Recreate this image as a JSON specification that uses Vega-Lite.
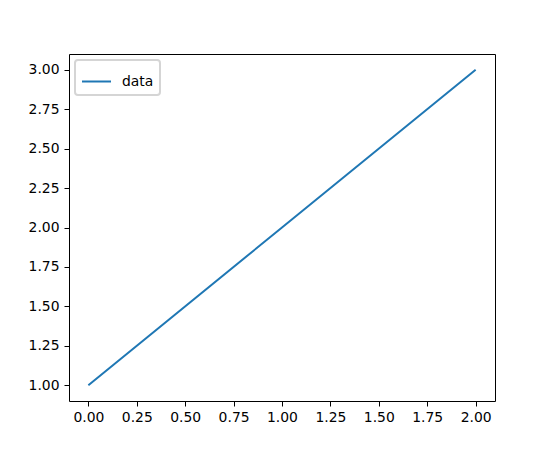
{
  "$schema": "https://vega.github.io/schema/vega-lite/v6.json",
  "autosize": "none",
  "padding": {"left": 69, "top": 54, "right": 55, "bottom": 49},
  "width": 426,
  "height": 347,
  "background": "white",
  "data": {
    "values": [
      {"x": 0, "y": 1, "series": "data"},
      {"x": 1, "y": 2, "series": "data"},
      {"x": 2, "y": 3, "series": "data"}
    ]
  },
  "mark": {"type": "line", "strokeWidth": 2},
  "encoding": {
    "x": {
      "field": "x",
      "type": "quantitative",
      "title": null,
      "scale": {"domain": [-0.1, 2.1], "nice": false, "zero": false},
      "axis": {
        "values": [0, 0.25, 0.5, 0.75, 1, 1.25, 1.5, 1.75, 2],
        "format": ".2f",
        "grid": false,
        "domain": false,
        "tickSize": 5,
        "tickColor": "black",
        "labelPadding": 4,
        "labelFont": "DejaVu Sans",
        "labelFontSize": 13.9,
        "labelColor": "black"
      }
    },
    "y": {
      "field": "y",
      "type": "quantitative",
      "title": null,
      "scale": {"domain": [0.9, 3.1], "nice": false, "zero": false},
      "axis": {
        "values": [1, 1.25, 1.5, 1.75, 2, 2.25, 2.5, 2.75, 3],
        "format": ".2f",
        "grid": false,
        "domain": false,
        "tickSize": 5,
        "tickColor": "black",
        "labelPadding": 5,
        "labelFont": "DejaVu Sans",
        "labelFontSize": 13.9,
        "labelColor": "black"
      }
    },
    "color": {
      "field": "series",
      "type": "nominal",
      "scale": {"range": ["#1f77b4"]},
      "legend": {
        "title": null,
        "orient": "top-left",
        "offset": 6,
        "padding": 6,
        "strokeColor": "#d5d5d5",
        "cornerRadius": 3,
        "fillColor": "white",
        "symbolType": "stroke",
        "symbolSize": 841,
        "symbolStrokeWidth": 2,
        "labelOffset": 10,
        "labelFont": "DejaVu Sans",
        "labelFontSize": 13.9,
        "labelColor": "black",
        "encode": {
          "legend": {"update": {"strokeWidth": {"value": 2}}}
        }
      }
    }
  },
  "config": {
    "view": {"stroke": "black", "strokeWidth": 1}
  }
}
